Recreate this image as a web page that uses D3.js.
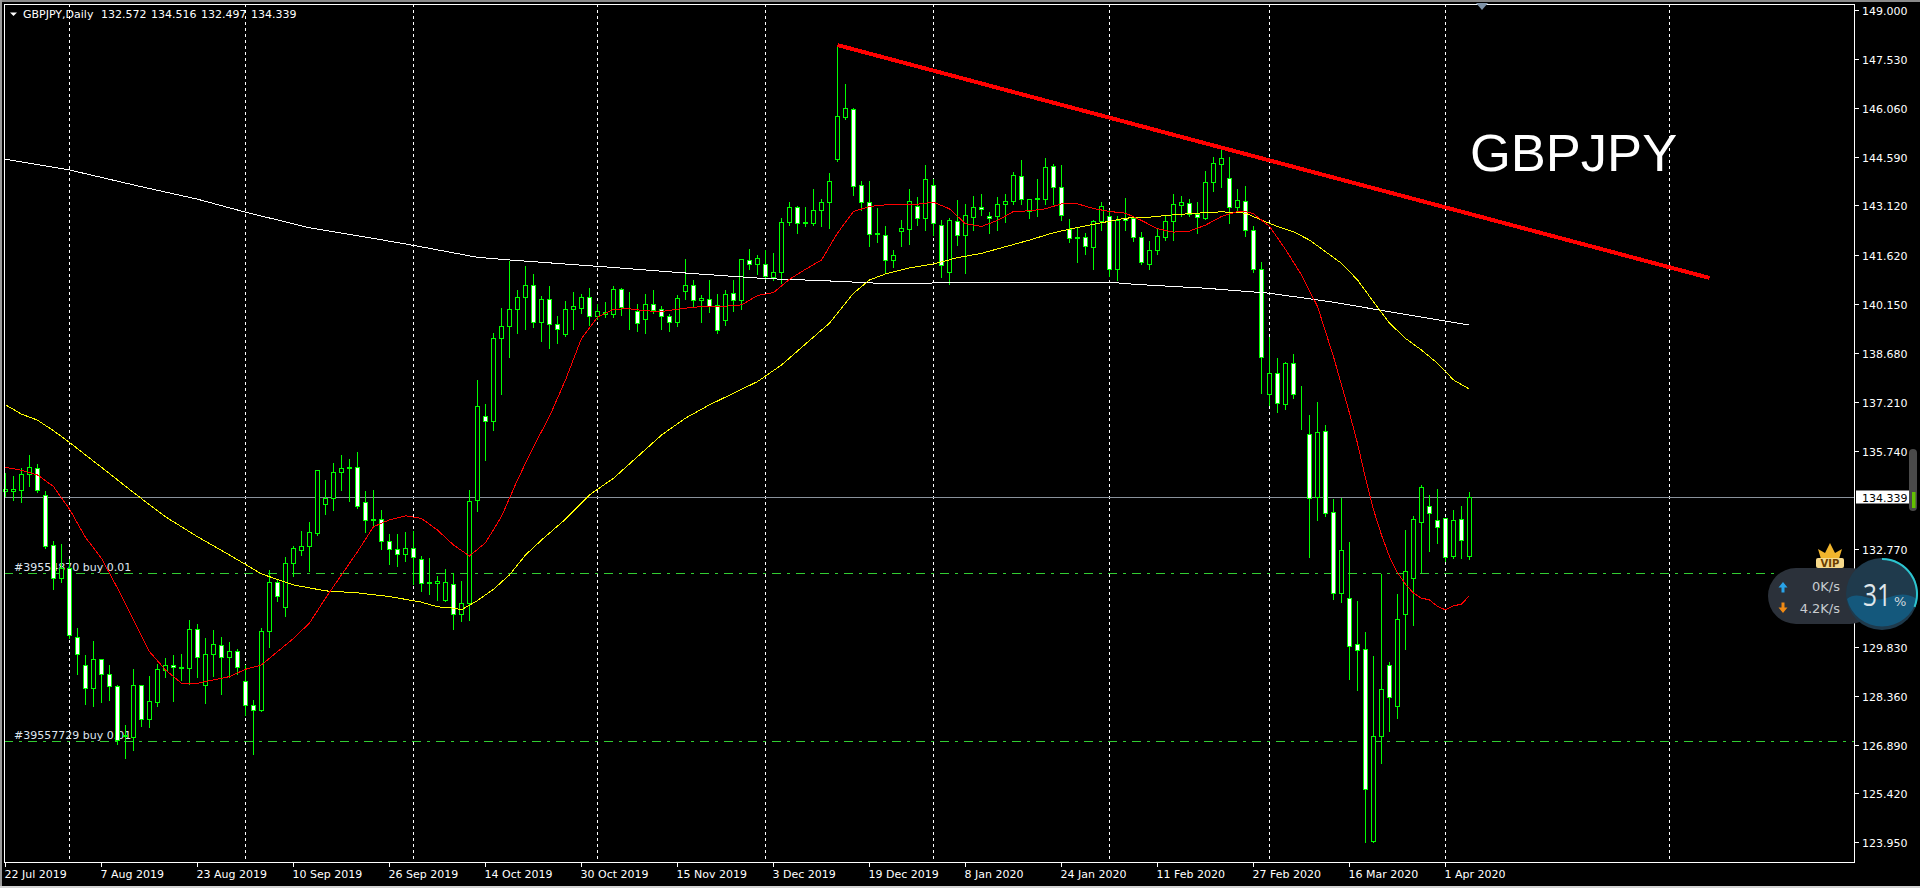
<!DOCTYPE html>
<html>
<head>
<meta charset="utf-8">
<title>GBPJPY Daily</title>
<script src="https://cdn.jsdelivr.net/npm/d3@7/dist/d3.min.js"></script>
<style>
html,body{margin:0;padding:0;background:#000;overflow:hidden}
svg{display:block}
text{font-family:"DejaVu Sans",sans-serif;font-size:11px;fill:#fff}
</style>
</head>
<body>
<div id="chart"></div>
<script>
const opens=[134.53,134.53,134.55,135.04,135.22,134.41,132.90,131.91,132.21,130.13,
129.29,128.59,129.47,129.01,128.65,127.19,127.12,128.69,127.67,128.17,
129.13,129.29,129.23,129.20,130.37,128.69,129.62,129.89,129.53,129.71,
128.81,128.09,127.94,130.32,131.79,131.04,132.36,132.75,132.87,133.25,
134.14,134.32,135.10,135.21,135.25,134.20,133.69,133.69,133.02,132.78,
132.63,132.81,132.48,131.76,131.76,131.25,131.73,130.83,131.16,134.26,
136.78,136.64,139.13,139.48,140.01,140.36,140.73,139.60,140.31,139.55,
139.25,140.01,140.03,140.37,139.78,139.85,139.85,140.61,140.04,139.95,
139.69,140.16,140.01,139.78,139.60,140.55,140.73,140.27,140.31,140.13,
139.66,140.49,140.27,141.48,141.36,141.36,140.97,141.11,142.61,143.08,
142.59,142.59,142.99,143.23,144.51,145.78,146.03,143.74,143.23,142.30,
142.23,141.48,142.36,142.41,143.11,142.74,143.74,142.54,141.12,142.66,
142.23,142.78,143.08,142.81,142.81,143.17,143.26,144.01,142.96,143.30,
143.32,144.31,143.68,142.41,142.15,142.17,141.87,142.66,142.81,141.21,
142.75,142.75,142.17,141.36,141.78,142.17,142.66,143.14,143.20,142.87,
142.75,143.83,144.37,143.95,143.08,143.26,142.38,141.21,137.44,138.08,
137.14,138.38,137.43,136.24,134.34,136.33,133.90,131.45,131.31,129.92,
129.77,123.99,127.16,129.29,128.05,130.82,131.91,133.59,134.08,133.66,
133.71,132.56,133.69,132.572];
const highs=[135.09,134.99,135.25,135.65,135.37,134.55,133.06,132.96,132.51,130.44,
129.60,130.05,129.50,129.32,128.72,127.50,129.20,128.72,128.97,129.35,
129.53,129.60,129.65,130.68,130.54,130.13,130.37,130.15,130.02,129.80,
129.30,128.25,130.44,132.16,131.91,132.56,132.90,133.36,133.63,135.17,
134.87,135.40,135.65,135.50,135.73,134.54,134.59,133.99,133.26,133.26,
133.33,133.36,132.61,132.54,131.98,132.21,132.09,131.83,134.57,137.88,
137.16,139.31,140.07,141.47,140.61,141.33,141.09,140.41,140.73,139.81,
140.26,140.53,140.49,140.67,140.17,140.23,140.73,140.67,140.53,140.19,
140.49,140.59,140.13,139.89,140.46,141.55,140.91,140.46,140.91,140.49,
140.61,140.89,141.51,141.85,141.67,141.81,141.71,142.78,143.24,143.14,
143.10,143.65,143.35,144.13,147.98,146.81,146.09,143.87,143.87,143.06,
142.54,141.82,142.72,143.63,143.41,144.35,143.95,142.70,142.78,143.30,
143.18,143.44,143.48,142.96,143.41,143.50,144.15,144.52,143.35,143.95,
144.59,144.40,144.37,142.75,142.48,142.33,142.70,143.26,143.00,142.84,
143.38,142.80,142.35,142.09,142.45,142.87,143.48,143.42,143.35,143.25,
144.17,144.62,144.94,144.62,143.65,143.72,142.53,141.43,139.18,138.56,
138.42,138.68,137.72,136.85,137.22,136.55,134.30,134.34,133.03,131.23,
130.32,129.57,132.06,129.41,131.44,133.39,133.81,134.72,134.42,134.62,
133.74,133.97,134.09,134.516];
const lows=[134.39,134.27,134.22,134.70,134.52,132.83,131.61,131.81,130.13,129.03,
128.13,128.08,128.20,128.25,126.94,126.51,126.77,127.47,127.45,128.08,
128.95,128.23,128.85,128.75,128.95,128.17,128.97,128.45,128.95,129.05,
127.80,126.64,127.94,129.87,131.24,130.79,131.98,132.64,132.13,133.24,
133.85,133.97,134.57,134.24,134.05,133.31,133.51,132.81,132.34,132.28,
132.44,131.76,131.54,131.44,131.26,131.23,130.39,130.63,130.68,133.95,
135.47,136.40,137.46,138.58,139.32,139.44,139.48,139.06,138.85,139.00,
139.23,139.44,139.92,139.55,139.73,139.80,139.78,139.84,139.44,139.38,
139.32,139.90,139.42,139.36,139.53,140.32,140.09,139.65,139.94,139.30,
139.56,139.96,140.03,141.22,141.07,140.94,140.89,140.81,142.55,142.33,
142.52,142.55,142.52,142.46,144.48,145.74,143.45,143.02,141.94,142.06,
141.13,141.28,141.94,142.00,142.55,142.40,142.25,141.00,140.79,141.97,
141.10,142.40,142.85,142.33,142.42,142.64,143.20,143.20,142.77,142.82,
143.20,143.20,142.70,142.04,141.44,141.69,141.22,142.42,141.01,140.89,
142.40,142.07,141.39,141.22,141.69,142.12,142.12,142.84,142.84,142.33,
142.73,143.57,143.70,142.62,142.95,142.22,141.15,137.50,137.13,136.93,
137.02,137.35,136.41,132.56,133.67,133.79,131.29,131.20,128.88,128.55,
124.00,123.99,126.36,127.32,127.72,129.81,130.51,132.10,132.74,133.00,
132.43,132.52,132.52,132.497];
const closes=[134.57,134.57,135.04,135.25,134.55,132.88,131.91,132.21,130.18,129.62,
128.60,129.47,129.02,128.65,127.02,127.14,128.69,127.67,128.21,129.15,
129.29,129.23,129.20,130.37,129.53,129.62,129.92,129.53,129.71,129.23,
128.09,127.94,130.32,131.79,131.37,132.36,132.81,132.87,133.29,135.16,
134.32,135.10,135.22,135.25,134.08,133.66,133.66,133.02,132.78,132.63,
132.81,132.54,131.76,131.79,131.82,131.79,130.83,131.16,134.23,137.09,
136.64,139.13,139.48,140.01,140.36,140.73,139.60,140.31,139.55,139.40,
140.01,140.09,140.37,139.78,139.95,139.90,140.61,140.06,140.02,139.58,
140.16,139.98,139.78,139.61,140.34,140.73,140.27,140.34,140.09,139.37,
140.46,140.27,141.51,141.36,141.54,140.99,141.12,142.63,143.08,142.58,
142.63,142.99,143.23,143.86,145.81,146.06,143.71,143.23,142.26,142.26,
141.48,141.63,142.45,143.26,142.75,143.92,142.60,141.33,142.69,142.23,
142.84,143.08,143.02,142.75,143.17,143.26,144.04,143.32,143.32,143.33,
144.28,143.68,142.84,142.14,142.17,141.90,142.66,143.11,141.21,142.69,
142.69,142.17,141.42,141.78,142.20,142.66,143.17,143.23,142.87,142.78,
143.83,144.40,144.55,143.08,143.29,142.38,141.21,138.56,138.08,137.18,
138.38,137.44,137.45,134.32,136.30,133.86,131.46,132.75,129.85,129.74,
125.56,127.16,128.57,128.33,130.68,132.12,133.69,134.65,133.86,133.43,
132.54,133.66,133.05,134.339];

const redIdx=[0,2,4,6,8,10,12,14,16,18,20,22,24,26,28,30,32,34,36,38,40,42,44,46,48,50,52,54,56,58,
60,62,64,66,68,70,72,74,76,78,80,82,84,86,88,90,92,94,96,98,100,102,104,106,108,110,112,114,116,118,
120,122,124,126,128,130,132,134,136,138,140,142,144,146,148,150,152,154,155,156,158,160,162,164,166,168,
169,170,171,172,173,174,175,176,177,178,179,180,181,182,183];
const redVals=[135.25,135.16,135.02,134.67,133.99,133.14,132.51,131.61,130.66,129.70,129.15,128.75,128.75,128.85,128.95,129.17,129.30,129.70,130.10,130.56,131.31,132.01,132.71,133.46,133.67,133.79,133.71,133.36,132.91,132.58,
132.98,133.77,134.87,135.87,136.78,137.88,139.13,139.77,140.01,140.02,139.96,139.94,140.01,140.07,140.09,140.10,140.14,140.42,140.51,140.91,141.21,141.49,142.30,142.95,143.10,143.15,143.17,143.17,143.23,143.03,
142.58,142.50,142.68,142.95,142.97,143.03,143.18,143.18,143.04,142.95,142.90,142.68,142.43,142.33,142.36,142.54,142.80,142.95,142.95,142.88,142.50,141.81,141.04,140.09,138.58,136.88,
135.97,134.92,133.97,133.21,132.56,132.08,131.73,131.46,131.31,131.26,131.06,130.96,131.08,131.13,131.39];

const yellowIdx=[0,2,4,6,8,10,12,16,20,24,28,32,36,40,44,48,52,54,56,57,59,61,63,65,67,70,73,76,79,82,85,88,91,94,97,100,102,103,106,108,110,113,116,119,122,125,128,131,134,137,140,143,146,149,152,155,157,159,161,163,165,167,169,171,173,175,177,179,181,183];
const yellowVals=[137.13,136.85,136.67,136.35,136.00,135.62,135.25,134.49,133.76,133.16,132.61,132.04,131.71,131.53,131.47,131.36,131.19,131.05,131.01,130.96,131.24,131.58,132.01,132.61,133.06,133.69,134.42,134.92,135.57,136.22,136.73,137.13,137.48,137.83,138.33,138.96,139.38,139.59,140.49,140.89,141.07,141.25,141.37,141.56,141.69,141.89,142.09,142.31,142.47,142.61,142.75,142.78,142.85,142.90,142.94,142.90,142.69,142.50,142.34,142.09,141.74,141.39,140.89,140.23,139.59,139.13,138.78,138.38,137.88,137.60];

const whiteIdx=[0,8,16,24,30,38,46,51,59,63,74,86,95,102,110,120,138,141,150,158,166,174,180,183];
const whiteVals=[144.52,144.20,143.75,143.32,142.93,142.46,142.14,141.93,141.57,141.49,141.30,141.08,140.93,140.87,140.78,140.81,140.82,140.76,140.64,140.49,140.22,139.89,139.65,139.53];

const trendIdx=[104,213];
const trendVals=[147.96,140.95];

const priceTicks=[149.000,147.530,146.060,144.590,143.120,141.620,140.150,138.680,137.210,135.740,132.770,129.830,128.360,126.890,125.420,123.950];
const timeLabels=["22 Jul 2019","7 Aug 2019","23 Aug 2019","10 Sep 2019","26 Sep 2019","14 Oct 2019","30 Oct 2019","15 Nov 2019","3 Dec 2019","19 Dec 2019","8 Jan 2020","24 Jan 2020","11 Feb 2020","27 Feb 2020","16 Mar 2020","1 Apr 2020"];
const timeTickIdx=[0,12,24,36,48,60,72,84,96,108,120,132,144,156,168,180];
const periodSeparators=[8,30,51,74,95,116,138,158,180,208];
const orderLevels=[132.06,127.00];
const orderLabels=["#39554870 buy 0.01","#39557729 buy 0.01"];
const lastPrice=134.339;
const headerText="GBPJPY,Daily";
const headerValues=["132.572","134.516","132.497","134.339"];

const W=1920,H=888,plotL=4,plotR=1854,plotT=4,plotB=862;
const x=d3.scaleLinear().domain([0,183]).range([5.5,1469.5]);
const y=d3.scaleLinear().domain([149,123.95]).range([10.5,842.7]);
const py=v=>Math.round(y(v)-0.5)+0.5;

const svg=d3.select("#chart").append("svg").attr("width",W).attr("height",H);
svg.append("rect").attr("width",W).attr("height",H).attr("fill","#000");
// window edges
svg.append("rect").attr("width",W).attr("height",2).attr("fill","#8a8a8a");
svg.append("rect").attr("width",2).attr("height",H).attr("fill","#9a9a9a");
svg.append("rect").attr("y",886).attr("width",W).attr("height",2).attr("fill","#d4d4d4");

const plot=svg.append("g");
// period separators
plot.selectAll("line.sep").data(periodSeparators).join("line").attr("class","sep")
 .attr("x1",d=>x(d)).attr("x2",d=>x(d)).attr("y1",plotT).attr("y2",plotB)
 .attr("stroke","#fff").attr("stroke-dasharray","3 3").attr("shape-rendering","crispEdges");
// current price line
plot.append("line").attr("x1",plotL).attr("x2",plotR).attr("y1",py(lastPrice)).attr("y2",py(lastPrice))
 .attr("stroke","#8a929c").attr("shape-rendering","crispEdges");
// order lines and labels
plot.selectAll("line.ord").data(orderLevels).join("line").attr("class","ord")
 .attr("x1",plotL).attr("x2",plotR).attr("y1",d=>py(d)).attr("y2",d=>py(d))
 .attr("stroke","#32cd32").attr("stroke-dasharray","9 6 3 6").attr("shape-rendering","crispEdges");
plot.selectAll("text.ord").data(orderLevels).join("text").attr("class","ord")
 .attr("x",14).attr("y",d=>py(d)-3).text((d,i)=>orderLabels[i]).style("fill","#dfe6ee");

// candles
const idx=d3.range(opens.length);
const candles=plot.selectAll("g.c").data(idx).join("g").attr("class","c").attr("shape-rendering","crispEdges");
candles.append("line").attr("x1",i=>x(i)).attr("x2",i=>x(i)).attr("y1",i=>py(highs[i])).attr("y2",i=>py(lows[i])+1).attr("stroke","#00ff00");
candles.append("rect")
 .attr("x",i=>x(i)-2).attr("width",4)
 .attr("y",i=>py(Math.max(opens[i],closes[i])))
 .attr("height",i=>py(Math.min(opens[i],closes[i]))-py(Math.max(opens[i],closes[i])))
 .attr("fill",i=>closes[i]>=opens[i]?"#000":"#fff").attr("stroke","#00ff00");

// moving averages
const line=d3.line().x(d=>x(d[0])).y(d=>y(d[1]));
[[whiteIdx,whiteVals,"#ffffff"],[yellowIdx,yellowVals,"#ffff00"],[redIdx,redVals,"#ff0000"]].forEach(([ix,vs,c])=>{
  plot.append("path").attr("d",line(d3.zip(ix,vs))).attr("fill","none").attr("stroke",c).attr("stroke-width",1).attr("shape-rendering","crispEdges");
});
// trend line
plot.append("path").attr("d",line(d3.zip(trendIdx,trendVals))).attr("fill","none").attr("stroke","#ff0000").attr("stroke-width",4).attr("shape-rendering","crispEdges");

// annotation
svg.append("text").attr("x",1470).attr("y",171).text("GBPJPY").style("font-family","'Liberation Sans',Arial,sans-serif").style("font-size","52.5px");

// frame
svg.append("rect").attr("x",plotL+.5).attr("y",plotT+.5).attr("width",plotR-plotL).attr("height",plotB-plotT).attr("fill","none").attr("stroke","#fff").attr("shape-rendering","crispEdges");

// price axis
const pAxis=svg.append("g");
pAxis.selectAll("line").data(priceTicks).join("line").attr("x1",plotR+1).attr("x2",plotR+5).attr("y1",d=>py(d)).attr("y2",d=>py(d)).attr("stroke","#fff").attr("shape-rendering","crispEdges");
pAxis.selectAll("text").data(priceTicks).join("text").attr("x",1862).attr("y",d=>py(d)+4).text(d=>d.toFixed(3));
svg.append("rect").attr("x",1856).attr("y",py(lastPrice)-7).attr("width",54).attr("height",13).attr("fill","#fff");
svg.append("text").attr("x",1862).attr("y",py(lastPrice)+4).text(lastPrice.toFixed(3)).style("fill","#000");

// time axis
const tAxis=svg.append("g");
tAxis.selectAll("line").data(timeTickIdx).join("line").attr("x1",d=>x(d)).attr("x2",d=>x(d)).attr("y1",plotB+1).attr("y2",plotB+5).attr("stroke","#fff").attr("shape-rendering","crispEdges");
tAxis.selectAll("text").data(timeLabels).join("text").attr("x",(d,i)=>x(timeTickIdx[i])-1).attr("y",878).text(d=>d);

// header
svg.append("path").attr("d","M10 12.5 L17 12.5 L13.5 16 Z").attr("fill","#fff");
svg.append("text").attr("x",23).attr("y",18).text(headerText);
svg.selectAll("text.hv").data(headerValues).join("text").attr("class","hv").attr("x",(d,i)=>101+50*i).attr("y",18).text(d=>d);

// chart shift marker
svg.append("path").attr("d","M1476 3 L1488 3 L1482 10 Z").attr("fill","#7f93a8");

// scrollbar-like widget
svg.append("rect").attr("x",1909).attr("y",449).attr("width",8).attr("height",62).attr("rx",4).attr("fill","#4a4a4a");
svg.append("rect").attr("x",1912).attr("y",492).attr("width",3.5).attr("height",16).attr("fill","#63c200");

// network speed widget
const w=svg.append("g");
w.append("rect").attr("x",1768).attr("y",568).attr("width",110).attr("height",56).attr("rx",28).attr("fill","#2b313a");
w.append("path").attr("d","M1783 582 l-4.500 5.500 h3 v5 h3 v-5 h3 Z").attr("fill","#29a3e8");
w.append("path").attr("d","M1783 613 l-4.500 -5.500 h3 v-5 h3 v5 h3 Z").attr("fill","#f08a14");
w.append("text").attr("x",1840).attr("y",591).attr("text-anchor","end").text("0K/s").style("fill","#c8ccd0").style("font-size","13px");
w.append("text").attr("x",1840).attr("y",613).attr("text-anchor","end").text("4.2K/s").style("fill","#c8ccd0").style("font-size","13px");
const cx=1882,cy=594,r=36;
w.append("circle").attr("cx",cx).attr("cy",cy).attr("r",r).attr("fill","#1f3a4c");
w.append("path").attr("d",`M${cx-r+1} ${cy+5} C${cx-24} ${cy-4} ${cx-12} ${cy+8} ${cx} ${cy+5} C${cx+12} ${cy+3} ${cx+20} ${cy-4} ${cx+r-1} ${cy+5} A${r} ${r} 0 0 1 ${cx-r+1} ${cy+5} Z`).attr("fill","#14587c");
w.append("path").attr("d",d3.arc()({innerRadius:r-2,outerRadius:r,startAngle:0,endAngle:0.31*2*Math.PI})).attr("transform",`translate(${cx},${cy})`).attr("fill","#2cc5cf");
w.append("text").attr("x",1863).attr("y",cy+12).attr("textLength",28).attr("lengthAdjust","spacingAndGlyphs").text("31").style("fill","#dfe6ea").style("font-size","31px").style("font-family","'Open Sans',sans-serif");
w.append("text").attr("x",1894).attr("y",cy+12).text("%").style("fill","#cfd6da").style("font-size","13px");
// VIP crown
const vip=svg.append("g");
vip.append("path").attr("d","M1821 559 L1818 549 L1825 553 L1830 543 L1835 553 L1842 549 L1839 559 Z").attr("fill","#f2b52c");
vip.append("rect").attr("x",1816).attr("y",558).attr("width",28).attr("height",10).attr("rx",2).attr("fill","#f7d98a");
vip.append("text").attr("x",1830).attr("y",567).attr("text-anchor","middle").text("VIP").style("fill","#6a3d00").style("font-size","10px").style("font-weight","bold");
</script>
</body>
</html>
